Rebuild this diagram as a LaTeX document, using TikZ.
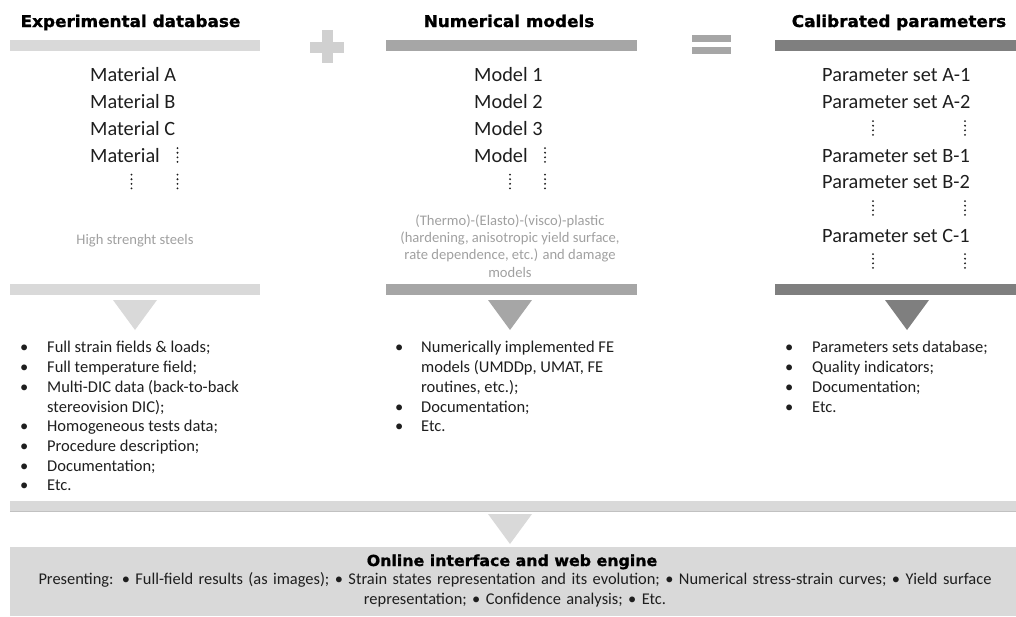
\documentclass[tikz,border=0pt]{standalone}
\usepackage{fontspec}
\setmainfont{Carlito}
\newfontfamily\headfont[FakeStretch=1.04, BoldFeatures={FakeBold=1.2}]{DejaVu Sans}
\definecolor{lightbar}{HTML}{D9D9D9}
\definecolor{midbar}{HTML}{A6A6A6}
\definecolor{darkbar}{HTML}{7F7F7F}
\definecolor{plusgray}{HTML}{D0D0D0}
\definecolor{txt}{HTML}{1E1E1E}
\definecolor{softtxt}{HTML}{A0A0A0}
\begin{document}
\begin{tikzpicture}[x=1pt,y=-1pt,
  head/.style={font=\headfont\bfseries\fontsize{16.2}{19}\selectfont, text=black, inner sep=0pt, anchor=base},
  bighead/.style={head, font=\headfont\bfseries\fontsize{15.2}{18}\selectfont},
  entry/.style={font=\fontsize{20.3}{24}\selectfont, text=txt, inner sep=0pt, anchor=base west},
  soft/.style={font=\fontsize{14.6}{17.3}\selectfont, text=softtxt, inner sep=0pt, align=center},
  blist/.style={font=\fontsize{16.5}{19.7}\selectfont, text=txt, inner sep=0pt, align=left, anchor=north west},
  bottomtxt/.style={font=\fontsize{16.4}{20}\selectfont, text=txt, inner sep=0pt, align=center},
  vd/.pic={\foreach \k in {-1.5,-0.5,0.5,1.5} \fill[txt] (0,\k*4.6) circle (1.05);}
]
\useasboundingbox (0,0) rectangle (1016,616);

% headings
\node[head] (h1) at (130.5,27) {Experimental database};
\node[head] (h2) at (509,27) {Numerical models};
\node[head] (h3) at (899,27) {Calibrated parameters};

% top bars
\fill[lightbar] (10,40) rectangle (260,51);
\fill[midbar] (386,40) rectangle (637,51);
\fill[darkbar] (775,40) rectangle (1016,51);

% plus and equals
\fill[plusgray] (322,30) rectangle (333,63);
\fill[plusgray] (310,42) rectangle (344,53);
\fill[midbar] (692,35) rectangle (731,42);
\fill[midbar] (692,47) rectangle (731,54);

% column 1
\node[entry] (ma) at (90,81) {Material A};
\node[entry] (mb) at (90,108.5) {Material B};
\node[entry] (mc) at (90,135) {Material C};
\node[entry] (md) at (90,162) {Material};
\pic at (177.5,155) {vd};
\pic at (131.5,181.5) {vd};
\pic at (177.5,181.5) {vd};
\node[soft] (steel) at (135,241) {High strenght steels};

% column 2
\node[entry] (m1) at (474,81) {Model 1};
\node[entry] (m2) at (474,108.5) {Model 2};
\node[entry] (m3) at (474,135) {Model 3};
\node[entry] (m4) at (474,162) {Model};
\pic at (545,155) {vd};
\pic at (510,181.5) {vd};
\pic at (545,181.5) {vd};
\node[soft] (desc) at (510,246) {(Thermo)-(Elasto)-(visco)-plastic\\(hardening, anisotropic yield surface,\\rate dependence, etc.) and damage\\models};

% column 3
\node[entry] (pa1) at (822,81) {Parameter set A-1};
\node[entry] (pa2) at (822,108.5) {Parameter set A-2};
\pic at (873,128) {vd};
\pic at (965,128) {vd};
\node[entry] (pb1) at (822,162) {Parameter set B-1};
\node[entry] (pb2) at (822,188.5) {Parameter set B-2};
\pic at (873,208) {vd};
\pic at (965,208) {vd};
\node[entry] (pc1) at (822,242) {Parameter set C-1};
\pic at (873,261) {vd};
\pic at (965,261) {vd};

% lower bars
\fill[lightbar] (10,284) rectangle (260,295);
\fill[midbar] (386,284) rectangle (637,295);
\fill[darkbar] (775,284) rectangle (1016,295);

% triangles
\fill[lightbar] (113,300) -- (157,300) -- (135,330) -- cycle;
\fill[midbar] (488,300) -- (532,300) -- (510,330) -- cycle;
\fill[darkbar] (885,300) -- (929,300) -- (907,330) -- cycle;

% lists
\node[blist] (b1) at (20,339) {•\strut\\•\strut\\•\strut\\\strut\\•\strut\\•\strut\\•\strut\\•\strut};
\node[blist] (l1) at (47,339) {Full strain fields \& loads;\strut\\Full temperature field;\strut\\Multi-DIC data (back-to-back\strut\\stereovision DIC);\strut\\Homogeneous tests data;\strut\\Procedure description;\strut\\Documentation;\strut\\Etc.\strut};

\node[blist] (b2) at (395,339) {•\strut\\\strut\\\strut\\•\strut\\•\strut};
\node[blist] (l2) at (421,339) {Numerically implemented FE\strut\\models (UMDDp, UMAT, FE\strut\\routines, etc.);\strut\\Documentation;\strut\\Etc.\strut};

\node[blist] (b3) at (785,339) {•\strut\\•\strut\\•\strut\\•\strut};
\node[blist] (l3) at (812,339) {Parameters sets database;\strut\\Quality indicators;\strut\\Documentation;\strut\\Etc.\strut};

% wide bar and bottom triangle
\fill[lightbar] (10,501) rectangle (1016,511);
\draw[midbar!70, line width=0.6pt] (10,511) -- (1016,511);
\fill[lightbar] (488,514) -- (532,514) -- (510,544) -- cycle;

% bottom box
\node[fill=lightbar, draw=none, minimum width=1006pt, minimum height=69pt, inner sep=0pt, anchor=north west] (box) at (10,547) {};
\node[bighead] (bt) at (512,566) {Online interface and web engine};
\node[bottomtxt, text width=1000pt, anchor=north] (btxt) at (515,572) {Presenting: • Full-field results (as images); • Strain states representation and its evolution; • Numerical stress-strain curves; • Yield surface\\representation; • Confidence analysis; • Etc.};
\end{tikzpicture}
\end{document}
